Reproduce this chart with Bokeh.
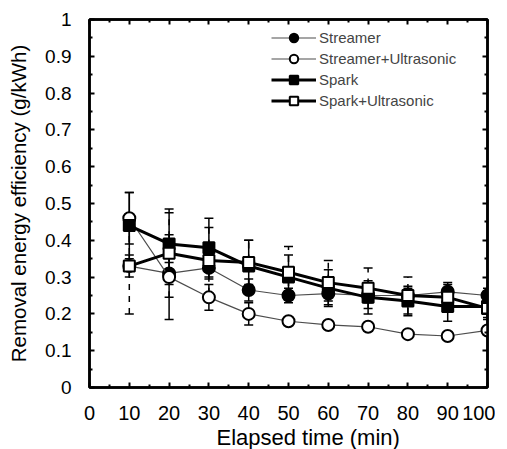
from bokeh.plotting import figure
from bokeh.models import (Range1d, LinearAxis, FixedTicker, NumeralTickFormatter,
                          ColumnDataSource, Whisker, TeeHead, Legend, LegendItem, Title)
from bokeh.embed import file_html
from bokeh.resources import INLINE

# ---- data ----
time_min = [10, 20, 30, 40, 50, 60, 70, 80, 90, 100]
streamer = [0.33, 0.31, 0.325, 0.265, 0.25, 0.255, 0.25, 0.25, 0.26, 0.25]
streamer_err = [0.03, 0.03, 0.03, 0.03, 0.02, 0.02, 0.02, 0.02, 0.02, 0.02]
streamer_us = [0.46, 0.30, 0.245, 0.20, 0.18, 0.17, 0.165, 0.145, 0.14, 0.155]
streamer_us_err = [0.07, 0.115, 0.035, 0.03, 0.01, 0.01, 0.01, 0.01, 0.01, 0.01]
spark = [0.44, 0.39, 0.38, 0.33, 0.30, 0.27, 0.245, 0.235, 0.22, 0.22]
spark_err = [0.09, 0.085, 0.08, 0.07, 0.06, 0.05, 0.045, 0.04, 0.04, 0.03]
spark_us = [0.33, 0.365, 0.345, 0.34, 0.313, 0.285, 0.27, 0.25, 0.245, 0.215]
spark_us_err = [0.13, 0.12, 0.09, 0.06, 0.07, 0.06, 0.055, 0.05, 0.04, 0.03]

labels = ["Streamer", "Streamer+Ultrasonic", "Spark", "Spark+Ultrasonic"]
x_ticks = [0, 10, 20, 30, 40, 50, 60, 70, 80, 90, 100]
y_ticks = [0, 0.1, 0.2, 0.3, 0.4, 0.5, 0.6, 0.7, 0.8, 0.9, 1.0]

FONT = "Liberation Sans"

p = figure(frame_width=398, frame_height=368, output_backend="svg", toolbar_location=None,
           x_range=Range1d(0, 100), y_range=Range1d(0, 1),
           min_border_left=89, min_border_right=8, min_border_top=19, min_border_bottom=10,
           x_axis_type=None, y_axis_type=None)
p.xgrid.visible = False
p.ygrid.visible = False
p.outline_line_color = "black"
p.outline_line_width = 2.5
p.background_fill_color = "white"
p.border_fill_color = "white"


def style_axis(ax, ticks, minor, show_labels):
    ax.ticker = FixedTicker(ticks=ticks, minor_ticks=minor)
    ax.axis_line_width = 2.5
    ax.axis_line_color = "black"
    ax.major_tick_in = 5
    ax.major_tick_out = 0
    ax.minor_tick_in = 3
    ax.minor_tick_out = 0
    ax.major_tick_line_width = 2
    ax.minor_tick_line_width = 2
    if show_labels:
        ax.major_label_text_font = FONT
        ax.major_label_text_font_size = "19px"
        ax.major_label_text_color = "black"
        ax.major_label_standoff = 18
    else:
        ax.major_label_text_font_size = "0px"
        ax.major_label_standoff = 0


x_minor = [v + 5 for v in x_ticks[:-1]]
y_minor = [round(v + 0.05, 2) for v in y_ticks[:-1]]

xb = LinearAxis()
style_axis(xb, x_ticks, x_minor, True)
xb.major_label_text_font_size = "20px"
p.add_layout(xb, "below")

xa = LinearAxis()
style_axis(xa, x_ticks, x_minor, False)
p.add_layout(xa, "above")

yl = LinearAxis(axis_label="Removal energy efficiency (g/kWh)")
style_axis(yl, y_ticks, y_minor, True)
yl.formatter = NumeralTickFormatter(format="0.[0]")
yl.axis_label_text_font = FONT
yl.axis_label_text_font_size = "20.5px"
yl.axis_label_text_font_style = "normal"
yl.axis_label_text_color = "black"
yl.axis_label_standoff = 12
p.add_layout(yl, "left")

yr = LinearAxis()
style_axis(yr, y_ticks, y_minor, False)
p.add_layout(yr, "right")

xt = Title(text="Elapsed time (min)", align="left", offset=127, text_font=FONT,
           text_font_size="22px", text_font_style="normal", text_color="black",
           standoff=0)
p.add_layout(xt, "below")

series = [
    (streamer, streamer_err, "circle", "black", "#4d4d4d", 1.2, "solid"),
    (streamer_us, streamer_us_err, "circle", "white", "#4d4d4d", 1.2, "solid"),
    (spark, spark_err, "square", "black", "black", 3, "solid"),
    (spark_us, spark_us_err, "square", "white", "black", 3, "dashed"),
]

items = []
for (vals, errs, marker, fill, lcol, lw, edash), lab in zip(series, labels):
    src = ColumnDataSource(dict(x=time_min, y=vals,
                                up=[v + e for v, e in zip(vals, errs)],
                                lo=[v - e for v, e in zip(vals, errs)]))
    w = Whisker(base="x", upper="up", lower="lo", source=src, dimension="height",
                line_color="black", line_width=1.5, line_dash=edash,
                upper_head=TeeHead(size=9, line_width=1.5, line_color="black"),
                lower_head=TeeHead(size=9, line_width=1.5, line_color="black"))
    p.add_layout(w)
    ln = p.line("x", "y", source=src, line_color=lcol, line_width=lw)
    size = 12 if marker == "circle" else 11
    mk = p.scatter("x", "y", source=src, marker=marker, size=size, fill_color=fill,
                   line_color="black", line_width=2)
    items.append(LegendItem(label=lab, renderers=[ln, mk]))

legend = Legend(items=items, location=(182, 276), padding=0, spacing=0, margin=0,
                glyph_width=45, glyph_height=21, label_height=21, label_standoff=3,
                label_text_font=FONT, label_text_font_size="15px",
                border_line_color=None, background_fill_alpha=0)
p.add_layout(legend, "center")

open("out.html", "w").write(file_html(p, INLINE))
